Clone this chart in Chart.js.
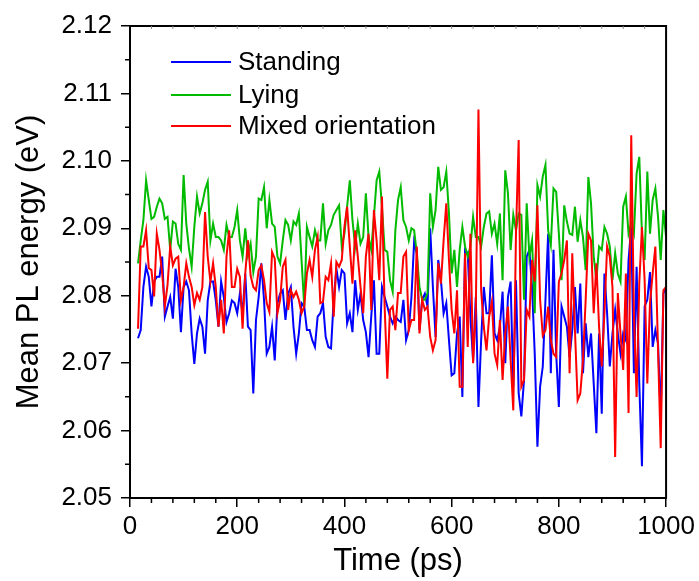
<!DOCTYPE html>
<html>
<head>
<meta charset="utf-8">
<script src="https://cdn.jsdelivr.net/npm/chart.js@4.4.1/dist/chart.umd.min.js"></script>
<style>
  html, body { margin: 0; padding: 0; background: #fff; }
  #wrap { width: 699px; height: 581px; }
</style>
</head>
<body>
<div id="wrap"><canvas id="plChart"></canvas></div>
<script>
// sampling: every 5 ps from 15 to 1000 ps
var tStart = 15, tStep = 5;

var standing = [
  2.0737, 2.0749, 2.0813, 2.0843, 2.0828, 2.0784, 2.0821, 2.0828, 2.0828, 2.0858,
  2.0769, 2.0784, 2.0798, 2.0766, 2.0840, 2.0813, 2.0746, 2.0813, 2.0821, 2.0808,
  2.0744, 2.0699, 2.0744, 2.0766, 2.0754, 2.0714, 2.0793, 2.0821, 2.0821, 2.0793,
  2.0754, 2.0821, 2.0798, 2.0761, 2.0774, 2.0793, 2.0789, 2.0774, 2.0803, 2.0774,
  2.0833, 2.0754, 2.0749, 2.0655, 2.0764, 2.0798, 2.0848, 2.0794, 2.0714, 2.0724,
  2.0754, 2.0704, 2.0789, 2.0803, 2.0808, 2.0764, 2.0803, 2.0813, 2.0754, 2.0714,
  2.0744, 2.0789, 2.0784, 2.0749, 2.0749, 2.0734, 2.0724, 2.0769, 2.0774, 2.0789,
  2.0739, 2.0724, 2.0722, 2.0794, 2.0840, 2.0813, 2.0838, 2.0833, 2.0759, 2.0774,
  2.0746, 2.0823, 2.0779, 2.0803, 2.0764, 2.0746, 2.0709, 2.0769, 2.0823, 2.0714,
  2.0714, 2.0813, 2.0798, 2.0784, 2.0769, 2.0759, 2.0769, 2.0764, 2.0761, 2.0794,
  2.0734, 2.0749, 2.0798, 2.0880, 2.0863, 2.0749, 2.0794, 2.0803, 2.0784, 2.0900,
  2.0813, 2.0739, 2.0853, 2.0823, 2.0774, 2.0789, 2.0734, 2.0682, 2.0685, 2.0744,
  2.0769, 2.0650, 2.0868, 2.0863, 2.0769, 2.0704, 2.0798, 2.0635, 2.0734, 2.0813,
  2.0774, 2.0774, 2.0860, 2.0744, 2.0734, 2.0754, 2.0806, 2.0700, 2.0798, 2.0821,
  2.0665, 2.0823, 2.0655, 2.0621, 2.0675, 2.0858, 2.0868, 2.0813, 2.0714, 2.0576,
  2.0665, 2.0695, 2.0794, 2.0892, 2.0685, 2.0868, 2.0714, 2.0635, 2.0784, 2.0769,
  2.0754, 2.0709, 2.0749, 2.0813, 2.0744, 2.0818, 2.0685, 2.0759, 2.0709, 2.0744,
  2.0670, 2.0596, 2.0744, 2.0625, 2.0833, 2.0774, 2.0695, 2.0744, 2.0779, 2.0744,
  2.0714, 2.0744, 2.0734, 2.0853, 2.0902, 2.0685, 2.0843, 2.0670, 2.0547, 2.0784,
  2.0794, 2.0835, 2.0724, 2.0749, 2.0729, 2.0621, 2.0803, 2.0813
];

var lying = [
  2.0848, 2.0882, 2.0912, 2.0971, 2.0942, 2.0914, 2.0917, 2.0932, 2.0944, 2.0937,
  2.0914, 2.0917, 2.0868, 2.0910, 2.0907, 2.0877, 2.0868, 2.0979, 2.0907, 2.0870,
  2.0843, 2.0902, 2.0947, 2.0922, 2.0937, 2.0957, 2.0969, 2.0882, 2.0907, 2.0887,
  2.0887, 2.0882, 2.0868, 2.0905, 2.0887, 2.0887, 2.0902, 2.0927, 2.0882, 2.0858,
  2.0900, 2.0860, 2.0877, 2.0835, 2.0858, 2.0944, 2.0942, 2.0961, 2.0900, 2.0942,
  2.0907, 2.0902, 2.0858, 2.0848, 2.0882, 2.0912, 2.0905, 2.0882, 2.0910, 2.0905,
  2.0922, 2.0853, 2.0784, 2.0902, 2.0887, 2.0873, 2.0897, 2.0882, 2.0882, 2.0937,
  2.0877, 2.0897, 2.0905, 2.0920, 2.0927, 2.0934, 2.0873, 2.0892, 2.0932, 2.0971,
  2.0912, 2.0873, 2.0907, 2.0877, 2.0887, 2.0952, 2.0887, 2.0868, 2.0917, 2.0971,
  2.0984, 2.0932, 2.0868, 2.0865, 2.0823, 2.0806, 2.0897, 2.0942, 2.0961, 2.0912,
  2.0902, 2.0882, 2.0900, 2.0897, 2.0863, 2.0813, 2.0794, 2.0794, 2.0804, 2.0952,
  2.0902, 2.0927, 2.0991, 2.0957, 2.0961, 2.0984, 2.0922, 2.0833, 2.0868, 2.0813,
  2.0868, 2.0902, 2.0873, 2.0858, 2.0873, 2.0917, 2.0887, 2.0887, 2.0873, 2.0902,
  2.0922, 2.0925, 2.0892, 2.0907, 2.0877, 2.0922, 2.0823, 2.0986, 2.0952, 2.0868,
  2.0920, 2.0897, 2.0922, 2.0920, 2.0794, 2.0937, 2.0858, 2.0882, 2.0774, 2.0964,
  2.0947, 2.0977, 2.0994, 2.0897, 2.0875, 2.0959, 2.0954, 2.0892, 2.0823, 2.0934,
  2.0910, 2.0892, 2.0890, 2.0932, 2.0880, 2.0912, 2.0887, 2.0838, 2.0976, 2.0937,
  2.0858, 2.0823, 2.0873, 2.0868, 2.0902, 2.0892, 2.0873, 2.0823, 2.0863, 2.0833,
  2.0821, 2.0932, 2.0947, 2.0892, 2.0907, 2.0892, 2.0981, 2.1006, 2.0892, 2.0853,
  2.0984, 2.0892, 2.0942, 2.0959, 2.0917, 2.0853, 2.0927, 2.0887
];

var mixed = [
  2.0751, 2.0873, 2.0873, 2.0897, 2.0841, 2.0838, 2.0799, 2.0892, 2.0868, 2.0833,
  2.0784, 2.0816, 2.0873, 2.0845, 2.0855, 2.0858, 2.0793, 2.0813, 2.0848, 2.0828,
  2.0813, 2.0786, 2.0804, 2.0794, 2.0813, 2.0924, 2.0858, 2.0821, 2.0848, 2.0813,
  2.0754, 2.0794, 2.0744, 2.0858, 2.0897, 2.0813, 2.0813, 2.0840, 2.0828, 2.0751,
  2.0833, 2.0882, 2.0830, 2.0813, 2.0808, 2.0838, 2.0845, 2.0823, 2.0789, 2.0776,
  2.0865, 2.0855, 2.0774, 2.0794, 2.0843, 2.0853, 2.0779, 2.0808, 2.0798, 2.0806,
  2.0794, 2.0774, 2.0784, 2.0833, 2.0853, 2.0828, 2.0868, 2.0887, 2.0789, 2.0791,
  2.0828, 2.0823, 2.0848, 2.0769, 2.0850, 2.0843, 2.0853, 2.0902, 2.0932, 2.0873,
  2.0818, 2.0897, 2.0858, 2.0813, 2.0774, 2.0858, 2.0892, 2.0779, 2.0927, 2.0882,
  2.0823, 2.0947, 2.0784, 2.0677, 2.0779, 2.0784, 2.0749, 2.0804, 2.0804, 2.0858,
  2.0865, 2.0749, 2.0764, 2.0764, 2.0873, 2.0744, 2.0794, 2.0779, 2.0784, 2.0739,
  2.0719, 2.0734, 2.0848, 2.0818, 2.0882, 2.0937, 2.0853, 2.0779, 2.0744, 2.0808,
  2.0665, 2.0665, 2.0863, 2.0724, 2.0892, 2.0700, 2.0774, 2.1076, 2.0808, 2.0754,
  2.0719, 2.0769, 2.0791, 2.0714, 2.0697, 2.0764, 2.0675, 2.0744, 2.0784, 2.0705,
  2.0630, 2.0892, 2.1031, 2.0665, 2.0675, 2.0779, 2.0769, 2.0853, 2.0821, 2.0934,
  2.0794, 2.0741, 2.0749, 2.0784, 2.0734, 2.0714, 2.0709, 2.0821, 2.0833, 2.0853,
  2.0882, 2.0685, 2.0863, 2.0749, 2.0645, 2.0655, 2.0705, 2.0794, 2.0892, 2.0882,
  2.0774, 2.0848, 2.0754, 2.0695, 2.0774, 2.0873, 2.0858, 2.0813, 2.0561, 2.0804,
  2.0744, 2.0690, 2.0833, 2.0626, 2.1038, 2.0774, 2.0650, 2.0818, 2.0902, 2.0823,
  2.0670, 2.0789, 2.0833, 2.0873, 2.0720, 2.0574, 2.0808, 2.0813
];

var seriesNames = ['Standing', 'Lying', 'Mixed orientation'];
var seriesColors = ['#0000ff', '#00bb00', '#ff0000'];

function toPoints(arr) {
  return arr.map(function (v, i) { return { x: tStart + tStep * i, y: v }; });
}

var fontFam = '"Liberation Sans", Arial, sans-serif';

// minor ticks, top/right frame and legend
var framePlugin = {
  id: 'frame',
  afterDraw: function (chart) {
    var ctx = chart.ctx, a = chart.chartArea;
    var xs = chart.scales.x, ys = chart.scales.y;
    ctx.save();
    ctx.strokeStyle = '#000';
    ctx.lineWidth = 2;
    ctx.strokeRect(a.left, a.top, a.right - a.left, a.bottom - a.top);

    ctx.lineWidth = 1.5;
    ctx.beginPath();
    for (var v = 40; v < 1000; v += 40) {
      if (v % 200 === 0) continue;
      var px = xs.getPixelForValue(v);
      ctx.moveTo(px, a.bottom); ctx.lineTo(px, a.bottom + 5);
    }
    for (var w = 2.055; w < 2.12; w += 0.01) {
      var py = ys.getPixelForValue(w);
      ctx.moveTo(a.left, py); ctx.lineTo(a.left - 5, py);
    }
    ctx.stroke();

    ctx.lineWidth = 1;
    ctx.strokeStyle = '#888';
    ctx.beginPath();
    for (var u = 40; u < 1000; u += 40) {
      var tx = xs.getPixelForValue(u);
      ctx.moveTo(tx, a.top); ctx.lineTo(tx, a.top + 3);
    }
    ctx.stroke();

    // legend
    ctx.font = '26px ' + fontFam;
    ctx.textBaseline = 'middle';
    ctx.fillStyle = '#000';
    var ly = [62, 95, 126];
    chart.data.datasets.forEach(function (ds, i) {
      ctx.strokeStyle = ds.borderColor;
      ctx.lineWidth = 2;
      ctx.beginPath();
      ctx.moveTo(171, ly[i]); ctx.lineTo(231, ly[i]);
      ctx.stroke();
      ctx.fillText(ds.label, 238, ly[i] + 1);
    });
    ctx.restore();
  }
};

var ctx = document.getElementById('plChart').getContext('2d');
var myChart = new Chart(ctx, {
  type: 'line',
  data: {
    datasets: [
      { label: seriesNames[0], data: toPoints(standing), borderColor: seriesColors[0], order: 3 },
      { label: seriesNames[1], data: toPoints(lying), borderColor: seriesColors[1], order: 2 },
      { label: seriesNames[2], data: toPoints(mixed), borderColor: seriesColors[2], order: 1 }
    ]
  },
  options: {
    responsive: true,
    maintainAspectRatio: false,
    animation: false,
    layout: { padding: { top: 26, right: 32, left: 0, bottom: 0 } },
    elements: {
      line: { borderWidth: 2, tension: 0 },
      point: { radius: 0 }
    },
    plugins: {
      legend: { display: false },
      tooltip: { enabled: false }
    },
    scales: {
      x: {
        type: 'linear',
        min: 0,
        max: 1000,
        afterFit: function (s) { s.height = 83; },
        ticks: {
          stepSize: 200,
          color: '#000',
          padding: 4,
          maxRotation: 0,
          font: { family: fontFam, size: 26 },
          callback: function (v) { return String(v); }
        },
        grid: { drawOnChartArea: false, drawTicks: true, tickLength: 9, color: '#000', lineWidth: 1.5 },
        border: { display: true, color: '#000', width: 2 },
        title: {
          display: true,
          text: 'Time (ps)',
          color: '#000',
          padding: { top: 0, bottom: 1 },
          font: { family: fontFam, size: 31 }
        }
      },
      y: {
        min: 2.05,
        max: 2.12,
        afterFit: function (s) { s.width = 130; },
        ticks: {
          stepSize: 0.01,
          color: '#000',
          padding: 9,
          font: { family: fontFam, size: 26 },
          callback: function (v) { return v.toFixed(2); }
        },
        grid: { drawOnChartArea: false, drawTicks: true, tickLength: 9, color: '#000', lineWidth: 1.5 },
        border: { display: true, color: '#000', width: 2 },
        title: {
          display: true,
          text: 'Mean PL energy (eV)',
          color: '#000',
          padding: { top: 11, bottom: 0 },
          font: { family: fontFam, size: 31 }
        }
      }
    }
  },
  plugins: [framePlugin]
});
</script>
</body>
</html>
